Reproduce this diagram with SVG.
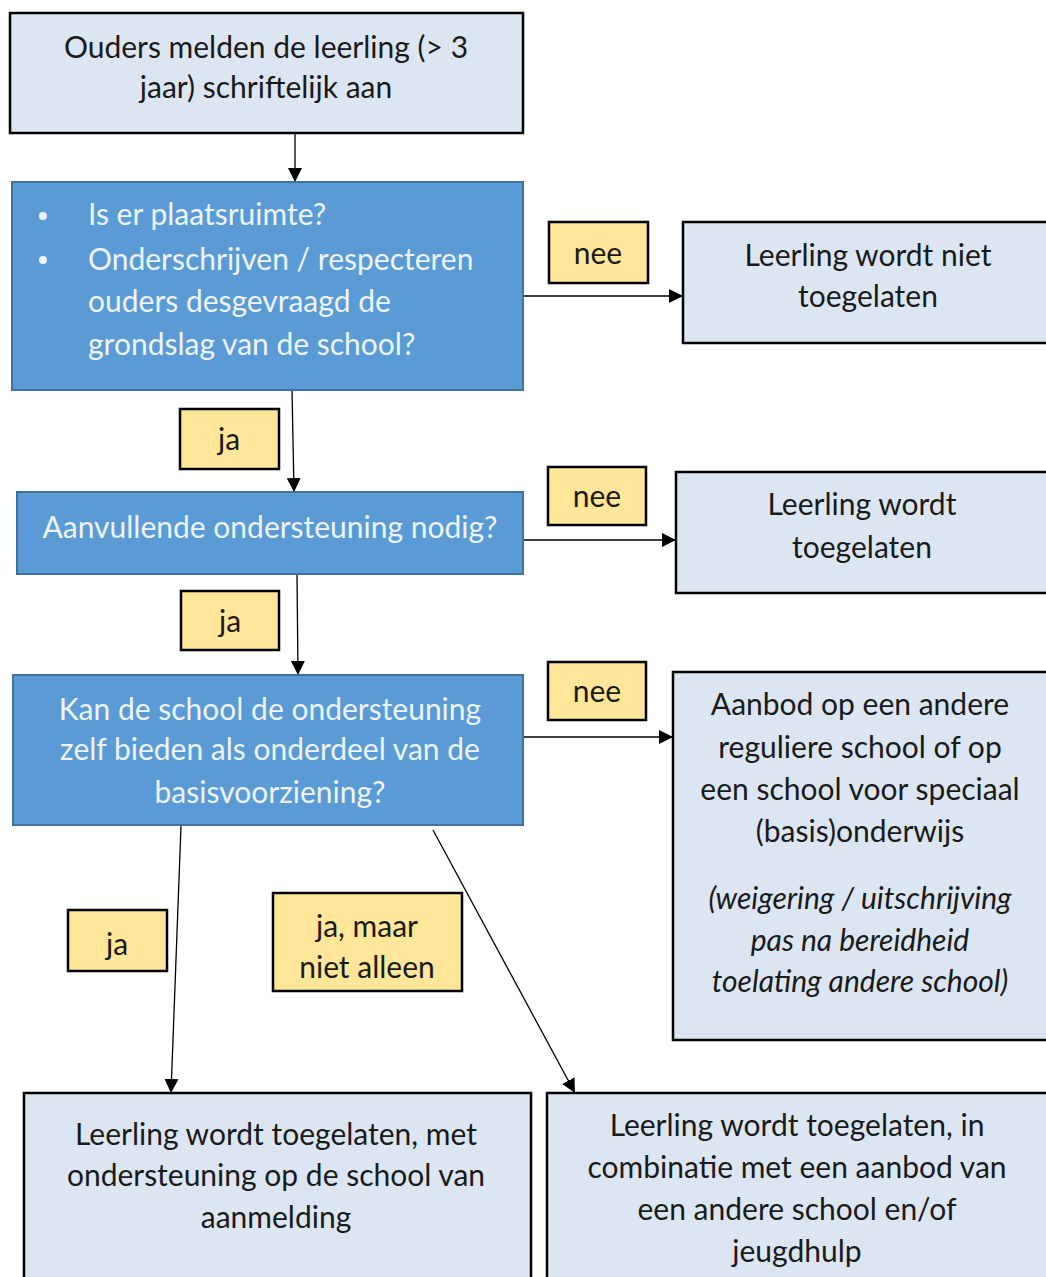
<svg xmlns="http://www.w3.org/2000/svg" width="1046" height="1277" viewBox="0 0 1046 1277">
<style>
.lb{fill:#dce6f2;stroke:#000;stroke-width:2.5}
.bl{fill:#5b9bd5;stroke:#41719c;stroke-width:2}
.lab{fill:#ffe699;stroke:#000;stroke-width:2.5}
text{font-family:Lato,"Open Sans","Liberation Sans",sans-serif;font-size:30px;fill:#1a1a1a}
.c{text-anchor:middle}
.w{fill:#eef4fb}
.i{font-style:italic}
.e{stroke:#000;stroke-width:1.3;fill:none;marker-end:url(#ah)}
</style>
<defs>
<marker id="ah" markerWidth="14" markerHeight="14" viewBox="0 0 14 14" refX="14" refY="7" orient="auto" markerUnits="userSpaceOnUse">
<path d="M0,0 L14,7 L0,14 z" fill="#000"/>
</marker>
</defs>
<rect width="1046" height="1277" fill="#fff"/>
<g id="connectors">
<line class="e" x1="295" y1="133" x2="295" y2="182"/>
<line class="e" x1="523" y1="296" x2="683" y2="296"/>
<line class="e" x1="292" y1="390" x2="294" y2="492"/>
<line class="e" x1="523" y1="540" x2="676" y2="540"/>
<line class="e" x1="297" y1="575" x2="298" y2="675"/>
<line class="e" x1="523" y1="737" x2="673" y2="737"/>
<line class="e" x1="181" y1="826" x2="171" y2="1093"/>
<line class="e" x1="433" y1="830" x2="575" y2="1093"/>
</g>
<g id="start">
<rect class="lb" x="10" y="13" width="513" height="120"/>
<text class="c" x="266" y="58">Ouders melden de leerling (&gt; 3</text>
<text class="c" x="266" y="98">jaar) schriftelijk aan</text>
</g>
<g id="q1">
<rect class="bl" x="12" y="182" width="511" height="208"/>
<circle cx="43" cy="216" r="4" fill="#eef4fb"/>
<circle cx="43" cy="260" r="4" fill="#eef4fb"/>
<text class="w" x="88" y="225">Is er plaatsruimte?</text>
<text class="w" x="88" y="270">Onderschrijven / respecteren</text>
<text class="w" x="88" y="312">ouders desgevraagd de</text>
<text class="w" x="88" y="355">grondslag van de school?</text>
</g>
<g id="label-nee1">
<rect class="lab" x="549" y="222" width="99" height="61"/>
<text class="c" x="598" y="264">nee</text>
</g>
<g id="r1">
<rect class="lb" x="683" y="222" width="375" height="121"/>
<text class="c" x="868" y="266">Leerling wordt niet</text>
<text class="c" x="868" y="307">toegelaten</text>
</g>
<g id="label-ja1">
<rect class="lab" x="180" y="409" width="99" height="60"/>
<text class="c" x="229" y="450">ja</text>
</g>
<g id="q2">
<rect class="bl" x="17" y="492" width="506" height="82"/>
<text class="c w" x="270" y="538">Aanvullende ondersteuning nodig?</text>
</g>
<g id="label-nee2">
<rect class="lab" x="548" y="467" width="98" height="58"/>
<text class="c" x="597" y="507">nee</text>
</g>
<g id="r2">
<rect class="lb" x="676" y="472" width="380" height="121"/>
<text class="c" x="862" y="515">Leerling wordt</text>
<text class="c" x="862" y="558">toegelaten</text>
</g>
<g id="label-ja2">
<rect class="lab" x="181" y="591" width="98" height="59"/>
<text class="c" x="230" y="632">ja</text>
</g>
<g id="q3">
<rect class="bl" x="13" y="675" width="510" height="150"/>
<text class="c w" x="270" y="720">Kan de school de ondersteuning</text>
<text class="c w" x="270" y="760">zelf bieden als onderdeel van de</text>
<text class="c w" x="270" y="803">basisvoorziening?</text>
</g>
<g id="label-nee3">
<rect class="lab" x="548" y="662" width="98" height="58"/>
<text class="c" x="597" y="702">nee</text>
</g>
<g id="r3">
<rect class="lb" x="673" y="672" width="383" height="368"/>
<text class="c" x="860" y="715">Aanbod op een andere</text>
<text class="c" x="860" y="758">reguliere school of op</text>
<text class="c" x="860" y="800">een school voor speciaal</text>
<text class="c" x="860" y="842">(basis)onderwijs</text>
<text class="c i" x="860" y="909">(weigering / uitschrijving</text>
<text class="c i" x="860" y="951">pas na bereidheid</text>
<text class="c i" x="860" y="992">toelating andere school)</text>
</g>
<g id="label-ja3">
<rect class="lab" x="68" y="910" width="99" height="61"/>
<text class="c" x="117" y="955">ja</text>
</g>
<g id="label-jamaar">
<rect class="lab" x="273" y="893" width="189" height="98"/>
<text class="c" x="367" y="937">ja, maar</text>
<text class="c" x="367" y="978">niet alleen</text>
</g>
<g id="b1">
<rect class="lb" x="24" y="1093" width="507" height="200"/>
<text class="c" x="276" y="1145">Leerling wordt toegelaten, met</text>
<text class="c" x="276" y="1186">ondersteuning op de school van</text>
<text class="c" x="276" y="1228">aanmelding</text>
</g>
<g id="b2">
<rect class="lb" x="547" y="1093" width="520" height="200"/>
<text class="c" x="797" y="1136">Leerling wordt toegelaten, in</text>
<text class="c" x="797" y="1178">combinatie met een aanbod van</text>
<text class="c" x="797" y="1220">een andere school en/of</text>
<text class="c" x="797" y="1262">jeugdhulp</text>
</g>
</svg>
